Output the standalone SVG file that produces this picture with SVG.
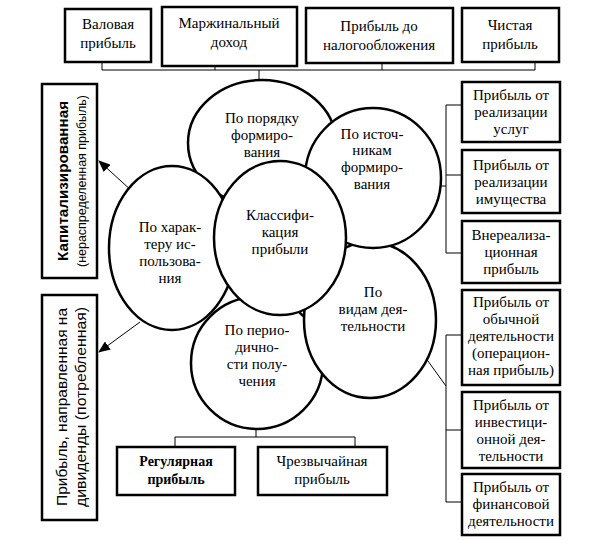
<svg xmlns="http://www.w3.org/2000/svg" width="611" height="540" viewBox="0 0 611 540">
<defs>
<style>
.box{fill:#fff;stroke:#000;stroke-width:2.5}
.circ{fill:#fff;stroke:#000;stroke-width:2.5}
.ln{fill:none;stroke:#000;stroke-width:1}
</style>
<marker id="ah" viewBox="0 0 12 10" refX="11" refY="5" markerWidth="12" markerHeight="10" markerUnits="userSpaceOnUse" orient="auto">
<path d="M0,0 L12,5 L0,10 Z" fill="#000"/>
</marker>
</defs>
<rect width="611" height="540" fill="#fff"/>
<g id="connectors">
<path class="ln" d="M102,62 V70 H535 V62 M215,66 V70 M382,63 V70 M259,70 V82"/>
<path class="ln" d="M437,186 H446 M462,105 H446 V253 H462 M446,175 H462"/>
<path class="ln" d="M420,350 L446,386 M462,335 H446 V502 H462 M446,430 H462"/>
<path class="ln" d="M256,428 V437 M175,437 H355 M175,437 V447 M355,437 V447"/>
<path class="ln" d="M133,192 L99,161" marker-end="url(#ah)"/>
<path class="ln" d="M140,322 L99,352" marker-end="url(#ah)"/>
</g>
<g font-family="'Liberation Serif', 'Times New Roman', serif" font-size="15" text-anchor="middle" fill="#000">
<g id="top1"><rect class="box" x="65" y="9" width="86" height="53"/><text x="108" y="29">Валовая</text><text x="108" y="48">прибыль</text></g>
<g id="top2"><rect class="box" x="162" y="7" width="135" height="59"/><text x="229" y="28">Маржинальный</text><text x="229" y="47">доход</text></g>
<g id="top3"><rect class="box" x="306" y="8" width="147" height="55"/><text x="379" y="31">Прибыль до</text><text x="379" y="50">налогообложения</text></g>
<g id="top4"><rect class="box" x="462" y="8" width="97" height="54"/><text x="510" y="30">Чистая</text><text x="510" y="49">прибыль</text></g>
<g id="left1"><rect class="box" x="42" y="84" width="55" height="194"/>
<text font-family="'Liberation Sans', Arial, sans-serif" font-weight="bold" transform="translate(68,181) rotate(-90)" textLength="160" lengthAdjust="spacingAndGlyphs">Капитализированная</text>
<text font-family="'Liberation Sans', Arial, sans-serif" transform="translate(86,181) rotate(-90)" font-size="13" textLength="172" lengthAdjust="spacingAndGlyphs">(нераспределенная прибыль)</text></g>
<g id="left2"><rect class="box" x="42" y="295" width="55" height="225"/>
<text font-family="'Liberation Sans', Arial, sans-serif" transform="translate(67,407) rotate(-90)" textLength="198" lengthAdjust="spacingAndGlyphs">Прибыль, направленная на</text>
<text font-family="'Liberation Sans', Arial, sans-serif" transform="translate(86,407) rotate(-90)" textLength="200" lengthAdjust="spacingAndGlyphs">дивиденды (потребленная)</text></g>
<g id="r1"><rect class="box" x="462" y="82" width="98" height="60"/><text x="511" y="100">Прибыль от</text><text x="511" y="117">реализации</text><text x="511" y="134">услуг</text></g>
<g id="r2"><rect class="box" x="462" y="150" width="98" height="63"/><text x="511" y="170">Прибыль от</text><text x="511" y="187">реализации</text><text x="511" y="204">имущества</text></g>
<g id="r3"><rect class="box" x="462" y="221" width="98" height="62"/><text x="511" y="240">Внереализа-</text><text x="511" y="257">ционная</text><text x="511" y="274">прибыль</text></g>
<g id="r4"><rect class="box" x="462" y="290" width="98" height="95"/><text x="511" y="307">Прибыль от</text><text x="511" y="324">обычной</text><text x="511" y="341">деятельности</text><text x="511" y="358">(операцион-</text><text x="511" y="375">ная прибыль)</text></g>
<g id="r5"><rect class="box" x="462" y="392" width="98" height="76"/><text x="511" y="410">Прибыль от</text><text x="511" y="427">инвестици-</text><text x="511" y="444">онной дея-</text><text x="511" y="461">тельности</text></g>
<g id="r6"><rect class="box" x="462" y="474" width="98" height="61"/><text x="511" y="492">Прибыль от</text><text x="511" y="509">финансовой</text><text x="511" y="526">деятельности</text></g>
<g id="b1"><rect class="box" x="117" y="447" width="118" height="48"/><text x="176" y="466" font-weight="bold" font-size="14">Регулярная</text><text x="176" y="484" font-weight="bold" font-size="14">прибыль</text></g>
<g id="b2"><rect class="box" x="258" y="447" width="129" height="48"/><text x="322" y="466">Чрезвычайная</text><text x="322" y="484">прибыль</text></g>
<g id="c-top"><ellipse class="circ" cx="262" cy="143" rx="74" ry="63"/><text x="262" y="123">По порядку</text><text x="262" y="140">формиро-</text><text x="262" y="157">вания</text></g>
<g id="c-bottom"><ellipse class="circ" cx="257" cy="363" rx="66" ry="66"/><text x="257" y="335">По перио-</text><text x="257" y="352">дично-</text><text x="257" y="369">сти полу-</text><text x="257" y="386">чения</text></g>
<g id="c-bright"><ellipse class="circ" cx="370" cy="320" rx="66" ry="78"/><text x="373" y="297">По</text><text x="373" y="314">видам дея-</text><text x="373" y="331">тельности</text></g>
<g id="c-right"><ellipse class="circ" cx="373" cy="178" rx="68" ry="70"/><text x="372" y="139">По источ-</text><text x="372" y="155">никам</text><text x="372" y="172">формиро-</text><text x="372" y="189">вания</text></g>
<g id="c-left"><ellipse class="circ" cx="172" cy="248" rx="63" ry="82"/><text x="170" y="232">По харак-</text><text x="170" y="249">теру ис-</text><text x="170" y="266">пользова-</text><text x="170" y="283">ния</text></g>
<g id="c-center"><ellipse class="circ" cx="280" cy="238" rx="66" ry="77"/><text x="280" y="220">Классифи-</text><text x="280" y="237">кация</text><text x="280" y="254">прибыли</text></g>
</g>
</svg>
